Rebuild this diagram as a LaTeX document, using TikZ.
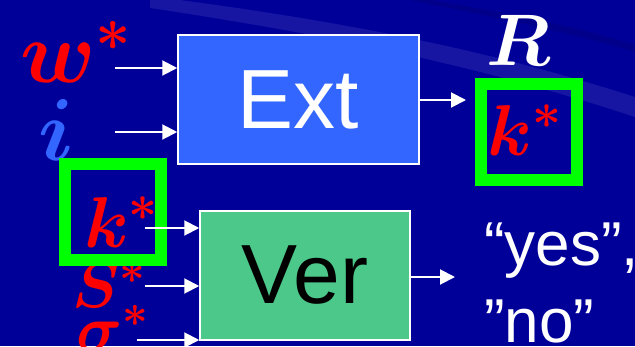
\RequirePackage{fix-cm}
\documentclass[tikz,border=0pt]{standalone}
\usepackage{amsmath,bm}
\usepackage{fontspec}
\newfontfamily\arial{Liberation Sans}
\usetikzlibrary{arrows.meta}
\definecolor{bgblue}{HTML}{000099}
\definecolor{bandblue}{HTML}{1616A2}
\definecolor{darkband}{HTML}{00008A}
\definecolor{extblue}{HTML}{3366FF}
\definecolor{vergreen}{HTML}{4CC98A}
\definecolor{keygreen}{HTML}{00FF00}
\definecolor{ired}{HTML}{FF0000}
\tikzset{
  box/.style={draw=white, line width=1.5pt, minimum width=#1, minimum height=129pt, inner sep=0pt, font=\arial\fontsize{84}{84}\selectfont},
  arr/.style={draw=white, line width=2pt, -{Triangle[length=15pt,width=15pt]}},
  lab/.style={anchor=base west, inner sep=0pt},
  keybox/.style={draw=keygreen, line width=12pt, minimum width=96pt, minimum height=96pt, inner sep=0pt},
}
\begin{document}
\begin{tikzpicture}[x=1pt,y=-1pt]
\fill[bgblue] (0,0) rectangle (635,346);
\useasboundingbox (0,0) rectangle (635,346);
% background sheen
\fill[bandblue] (180,0) .. controls (330,20) and (480,47) .. (635,97) -- (635,117)
  .. controls (480,66) and (330,35) .. (150,8) -- (150,0) -- cycle;
\fill[darkband] (430,0) .. controls (520,15) and (590,30) .. (635,45) -- (635,52)
  .. controls (580,35) and (500,18) .. (410,0) -- cycle;
% boxes
\node[box=241pt, fill=extblue, text=white] (ext) at (298.5,99.5) {Ext};
\node[box=210pt, fill=vergreen, text=black] (ver) at (305,275.5) {Ver};
% labels
\node[lab, text=ired, font=\fontsize{88}{88}\selectfont] (w) at (20,82) {$\bm{w}^{\bm{*}}$};
\node[lab, text=extblue, font=\fontsize{88}{88}\selectfont] (i) at (38,160) {$\bm{i}$};
\node[lab, text=white, font=\fontsize{73}{73}\selectfont] (R) at (486,65) {$\bm{R}$};
\node[lab, text=ired, font=\fontsize{72}{72}\selectfont] (k2) at (487,155) {$\bm{k}^{\bm{*}}$};
\node[lab, text=ired, font=\fontsize{72}{72}\selectfont] (k1) at (84,247) {$\bm{k}^{\bm{*}}$};
\node[lab, text=ired, font=\fontsize{64}{64}\selectfont] (S) at (72,307) {$\bm{S}^{\bm{*}}$};
\node[lab, text=ired, font=\fontsize{64}{64}\selectfont] (sig) at (76,350) {$\bm{\sigma}^{\bm{*}}$};
% green key boxes
\node[keybox] (kb2) at (529,131.5) {};
\node[keybox] (kb1) at (113,212) {};
% output text
\node[lab, text=white, font=\arial\fontsize{62}{62}\selectfont] (yes) at (484,265) {“yes”,};
\node[lab, text=white, font=\arial\fontsize{62}{62}\selectfont] (no) at (484,342) {”no”};
% arrow start coordinates
\coordinate (aw) at (115,68);
\coordinate (ai) at (115,132);
\coordinate (ak) at (145,228);
\coordinate (as) at (145,286);
\coordinate (ag) at (137,340);
\coordinate (eo) at (466,100);
\coordinate (vo) at (455,277);
% connectors
\draw[arr] (aw) -- (ext.west |- aw);
\draw[arr] (ai) -- (ext.west |- ai);
\draw[arr] (ext.east |- eo) -- (eo);
\draw[arr] (ak) -- (ver.west |- ak);
\draw[arr] (as) -- (ver.west |- as);
\draw[arr] (ag) -- (ver.west |- ag);
\draw[arr] (ver.east |- vo) -- (vo);
\end{tikzpicture}
\end{document}
